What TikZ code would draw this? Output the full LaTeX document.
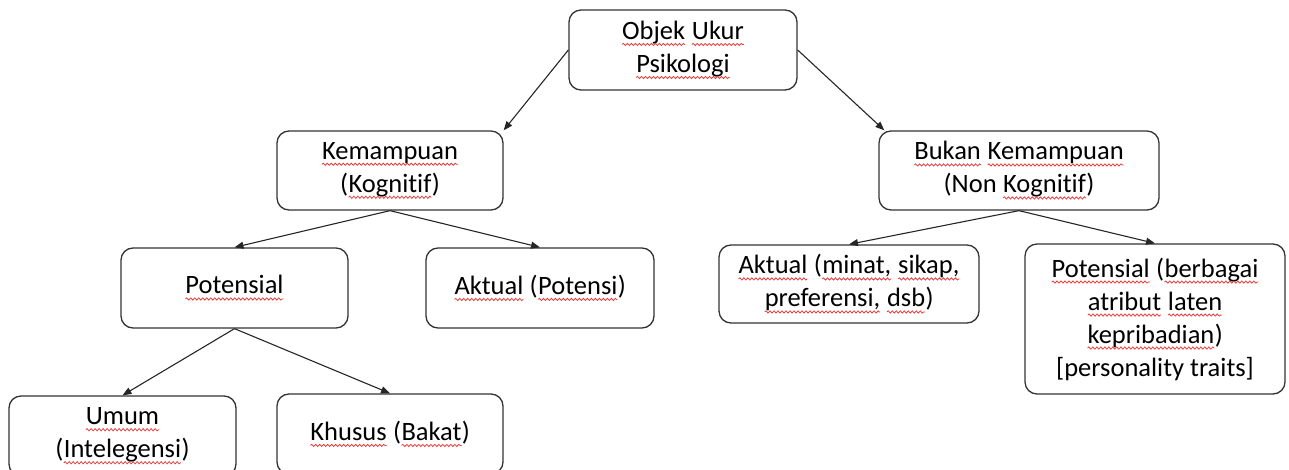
\documentclass[tikz,border=0pt]{standalone}
\usepackage{fontspec}
\setmainfont{Carlito}[Ligatures=NoCommon]
\usetikzlibrary{arrows.meta,decorations.pathmorphing}
\definecolor{wavered}{RGB}{235,60,60}
\newcommand\rw[1]{\tikz[baseline=(w.base)]{\node[inner sep=0pt,outer sep=0pt,draw=none,minimum width=0pt,minimum height=0pt] (w) {#1};
  \draw[wavered, line width=0.8pt, sharp corners, decorate, decoration={snake, amplitude=1.1pt, segment length=4pt}]
    ([yshift=-5pt]w.base west) -- ([yshift=-5pt]w.base east);}}
\tikzset{
  box/.style={draw=black!80, line width=1.3pt, rounded corners=12pt, align=center, inner sep=0pt,
    font=\fontsize{26.5}{33}\selectfont},
  conn/.style={draw=black!85, line width=1.1pt, -{Triangle[length=9pt,width=7pt]}}
}
\begin{document}
\begin{tikzpicture}[x=1pt,y=-1pt]
\useasboundingbox (0,0) rectangle (1289,470);
\clip (0,0) rectangle (1289,470);
\node[box, minimum width=228pt, minimum height=80pt] (obj) at (683,50) {\rw{Objek} \rw{Ukur}\\\rw{Psikologi}};
\node[box, minimum width=226pt, minimum height=79pt] (kem) at (390,170.5) {\rw{Kemampuan}\\(\rw{Kognitif})};
\node[box, minimum width=280pt, minimum height=79pt] (buk) at (1019,170.5) {\rw{Bukan} \rw{Kemampuan}\\(Non \rw{Kognitif})};
\node[box, minimum width=227pt, minimum height=80pt] (pot) at (234.5,288) {\rw{Potensial}};
\node[box, minimum width=228pt, minimum height=80pt] (akt) at (540,288) {\rw{Aktual} (\rw{Potensi})};
\node[box, minimum width=260pt, minimum height=78pt] (aktm) at (849,284) {\rw{Aktual} (\rw{minat,} \rw{sikap,}\\\rw{preferensi,} \rw{dsb})};
\node[box, minimum width=260pt, minimum height=150pt] (potb) at (1155,319) {\rw{Potensial} (\rw{berbagai}\\\rw{atribut} \rw{laten}\\\rw{kepribadian})\\{[personality traits]}};
\node[box, minimum width=227pt, minimum height=80pt] (umum) at (122.5,436) {\rw{Umum}\\(\rw{Intelegensi})};
\node[box, minimum width=226pt, minimum height=80pt] (khu) at (390,434) {\rw{Khusus} (\rw{Bakat})};
\draw[conn] (obj.west) -- (kem.north east);
\draw[conn] (obj.east) -- ([xshift=6pt]buk.north west);
\draw[conn] (kem.south) -- (pot.north);
\draw[conn] (kem.south) -- (akt.north);
\draw[conn] (buk.south) -- (aktm.north);
\draw[conn] (buk.south) -- (potb.north);
\draw[conn] (pot.south) -- (umum.north);
\draw[conn] (pot.south) -- (khu.north);
\end{tikzpicture}
\end{document}
